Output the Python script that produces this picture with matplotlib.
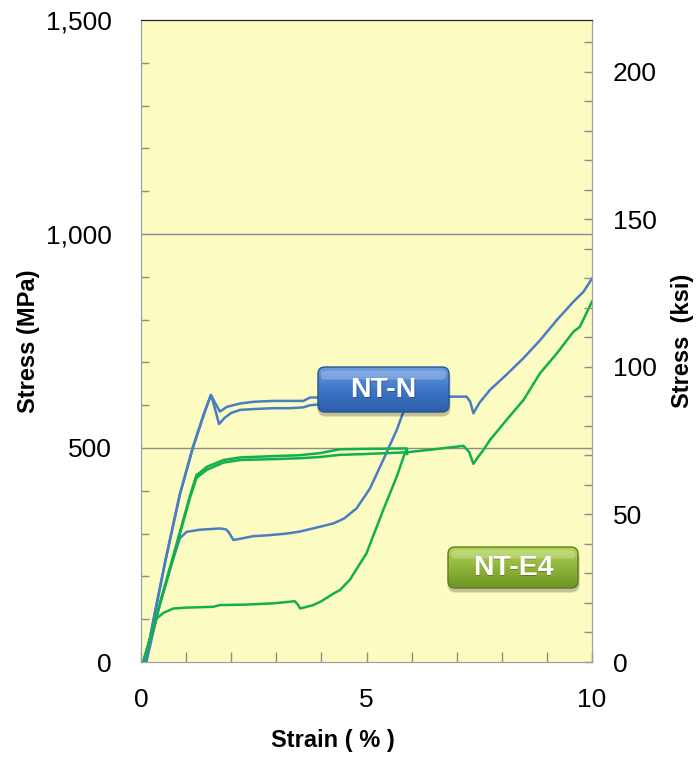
import numpy as np
import matplotlib
matplotlib.use("Agg")
import matplotlib.pyplot as plt
from matplotlib.patches import FancyBboxPatch
from matplotlib.ticker import MultipleLocator, FuncFormatter

plt.rcParams['font.family'] = ['Liberation Sans', 'DejaVu Sans']

MPA_PER_KSI = 6.89476

# NT-N curves (strain %, stress MPa)
blue_a_strain = [0.10, 0.30, 0.55, 0.86, 1.15, 1.40, 1.55, 1.62, 1.73, 1.85, 2.0, 2.2, 2.5,
                 2.93, 3.3, 3.6, 3.75, 3.97, 4.5, 5.5]
blue_a_stress = [0, 110, 240, 390, 500, 580, 624, 600, 556, 570, 582, 589, 591,
                 593, 593, 595, 600, 602, 604, 605]

blue_b_strain = [0.10, 0.30, 0.55, 0.86, 1.15, 1.40, 1.55, 1.62, 1.75, 1.9, 2.2, 2.5, 2.93,
                 3.3, 3.6, 3.75, 3.97, 4.5, 6.0, 6.85, 7.22, 7.3, 7.37, 7.5, 7.74, 8.1,
                 8.48, 8.85, 9.22, 9.59, 9.81, 10.0]
blue_b_stress = [0, 112, 242, 392, 502, 582, 624, 610, 585, 596, 604, 608, 610,
                 610, 610, 618, 618, 620, 620, 620, 620, 608, 581, 605, 636, 671,
                 710, 752, 799, 842, 865, 896]

blue_c_strain = [0.12, 0.25, 0.42, 0.65, 0.86, 1.01, 1.3, 1.75, 1.88, 1.94, 2.05, 2.2, 2.49,
                 2.8, 3.23, 3.53, 3.97, 4.27, 4.5, 4.78, 5.08, 5.37, 5.67, 5.82, 5.95]
blue_c_stress = [0, 60, 137, 220, 289, 304, 309, 312, 310, 304, 285, 288, 294,
                 296, 300, 305, 316, 324, 335, 359, 406, 472, 542, 585, 610]

# NT-E4 curves
green_d_strain = [0.05, 0.6, 1.09, 1.23, 1.30, 1.46, 1.83, 2.2, 2.93, 3.5, 3.97, 4.4,
                  5.0, 5.89, 5.9]
green_d_stress = [0, 205, 390, 437, 442, 456, 472, 478, 481, 483, 488, 497,
                  498, 499, 486]

green_e_strain = [0.05, 0.6, 1.09, 1.23, 1.35, 1.46, 1.83, 2.2, 2.93, 3.5, 3.97, 4.4,
                  5.0, 5.9, 6.5, 7.15, 7.28, 7.37, 7.48, 7.59, 7.74, 8.1, 8.48, 8.85,
                  9.22, 9.59, 9.73, 10.0]
green_e_stress = [0, 200, 385, 430, 440, 449, 466, 472, 474, 476, 479, 484,
                  486, 490, 497, 505, 490, 463, 480, 495, 519, 565, 612, 675,
                  721, 772, 783, 842]

green_f_strain = [0.05, 0.2, 0.35, 0.5, 0.72, 1.0, 1.6, 1.75, 2.3, 2.93, 3.41, 3.47,
                  3.53, 3.82, 4.0, 4.27, 4.41, 4.63, 5.0, 5.37, 5.67, 5.85, 5.89]
green_f_stress = [0, 55, 102, 115, 125, 127, 129, 133, 134, 137, 142, 135,
                  125, 133, 142, 160, 168, 192, 254, 355, 433, 488, 495]

x_ticks = [0, 5, 10]
y_ticks_mpa = [0, 500, 1000, 1500]
y_ticks_ksi = [0, 50, 100, 150, 200]

BLUE = '#4a7ec2'
GREEN = '#12b04c'
GRID = '#8c8c8c'

fig = plt.figure(figsize=(6.98, 7.71), dpi=100)
ax = fig.add_axes([141 / 698, 1 - 662 / 771, 451 / 698, 642 / 771])
ax.set_facecolor('#fbfbc2')

for xs, ys in [(blue_c_strain, blue_c_stress), (blue_a_strain, blue_a_stress),
               (blue_b_strain, blue_b_stress)]:
    ax.plot(xs, ys, color=BLUE, lw=1.8, solid_joinstyle='round', zorder=3)
for xs, ys in [(green_f_strain, green_f_stress), (green_d_strain, green_d_stress),
               (green_e_strain, green_e_stress)]:
    ax.plot(xs, ys, color=GREEN, lw=1.8, solid_joinstyle='round', zorder=3)

ax.set_xlim(0, 10)
ax.set_ylim(0, 1500)
ax.set_xticks(x_ticks)
ax.xaxis.set_minor_locator(MultipleLocator(1))
ax.set_yticks(y_ticks_mpa)
ax.yaxis.set_minor_locator(MultipleLocator(100))
ax.yaxis.set_major_formatter(FuncFormatter(lambda v, p: f'{int(v):,}'))
for yv in [500, 1000]:
    ax.axhline(yv, color=GRID, lw=1.0, zorder=1)

ax.tick_params(axis='both', which='both', direction='in', color=GRID, width=1.0)
ax.tick_params(axis='x', which='both', length=7, labelsize=19, pad=19)
ax.tick_params(axis='y', which='both', length=6, labelsize=19, pad=21)
ax.tick_params(axis='y', which='major', length=0)
for side in ['left', 'bottom', 'right']:
    ax.spines[side].set_color('#a0a0a0')
ax.spines['top'].set_color('#222222')

ax.set_xlabel('Strain ( % )', fontsize=17, fontweight='bold')
ax.xaxis.set_label_coords(0.426, -0.105)
ax.set_ylabel('Stress (MPa)', fontsize=17, fontweight='bold')
ax.yaxis.set_label_coords(-0.225, 0.5)

ax2 = ax.twinx()
ax2.set_ylim(0, 1500 / MPA_PER_KSI)
ax2.set_yticks(y_ticks_ksi)
ax2.yaxis.set_minor_locator(MultipleLocator(10))
ax2.tick_params(axis='y', which='both', direction='in', color=GRID, width=1.0,
                length=6, labelsize=19, pad=15)
for side in ['left', 'bottom', 'right']:
    ax2.spines[side].set_color('#a0a0a0')
ax2.spines['top'].set_color('#222222')
ax2.set_ylabel('Stress  (ksi)', fontsize=17, fontweight='bold')
ax2.yaxis.set_label_coords(1.175, 0.5)


def draw_tag(x0, y0, x1, y1, text, top, mid, bottom, edge):
    """Glossy rounded label, given in figure pixels (top-left origin)."""
    w, h = x1 - x0, y1 - y0
    pad = 6
    tag = fig.add_axes([(x0 - pad) / 698, 1 - (y1 + pad) / 771,
                        (w + 2 * pad) / 698, (h + 2 * pad) / 771])
    tag.set_xlim(-pad, w + pad)
    tag.set_ylim(-pad, h + pad)
    tag.axis('off')
    tag.patch.set_alpha(0)
    r = 7
    # soft drop shadow
    for k, a in [(4, 0.06), (3, 0.08), (2, 0.10)]:
        sh = FancyBboxPatch((1 - k / 2, -3 - k / 2), w + k - 1, h + k - 1,
                            boxstyle=f'round,pad=0,rounding_size={r + k / 2}',
                            fc='black', ec='none', alpha=a)
        tag.add_patch(sh)
    box = FancyBboxPatch((0, 0), w, h, boxstyle=f'round,pad=0,rounding_size={r}',
                         fc='none', ec=edge, lw=1.0, zorder=3)
    tag.add_patch(box)
    yy = np.linspace(0, 1, 100)[:, None]
    c_top = np.array(matplotlib.colors.to_rgb(top))
    c_mid = np.array(matplotlib.colors.to_rgb(mid))
    c_bot = np.array(matplotlib.colors.to_rgb(bottom))
    grad = np.where(yy[..., None] < 0.5,
                    c_bot + (c_mid - c_bot) * (yy[..., None] / 0.5),
                    c_mid + (c_top - c_mid) * ((yy[..., None] - 0.5) / 0.5))
    grad = np.repeat(grad, 2, axis=1)
    im = tag.imshow(grad, extent=(0, w, 0, h), origin='lower', aspect='auto', zorder=2)
    im.set_clip_path(box)
    # highlight band along the top
    hl = FancyBboxPatch((3, h * 0.72), w - 6, h * 0.2,
                        boxstyle='round,pad=0,rounding_size=4',
                        fc='white', ec='none', alpha=0.22, zorder=2.5)
    tag.add_patch(hl)
    tag.text(w / 2 + 0.5, h / 2 - 1.5, text, color='black', alpha=0.25, fontsize=20.5,
             fontweight='bold', ha='center', va='center', zorder=4)
    tag.text(w / 2, h / 2 - 0.5, text, color='white', fontsize=20.5,
             fontweight='bold', ha='center', va='center', zorder=5)


draw_tag(318, 367, 449, 412, 'NT-N', '#6b9be0', '#3e76c6', '#2d5ea8', '#2a5490')
draw_tag(448, 547, 578, 588, 'NT-E4', '#b5d35a', '#8fb43a', '#6f9326', '#5f7f1f')

fig.savefig('out.png', dpi=100)
